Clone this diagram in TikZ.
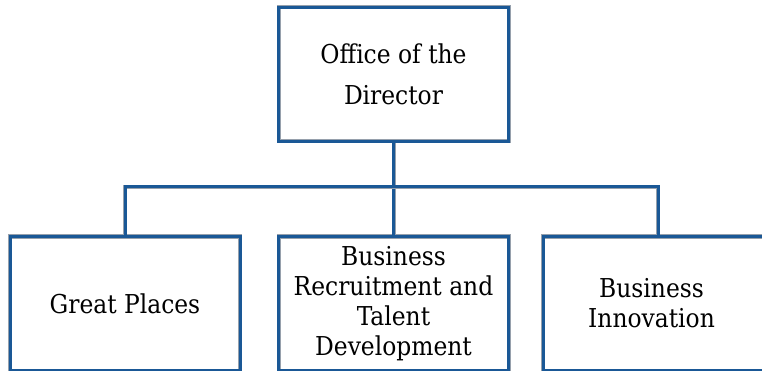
\documentclass[tikz,border=0pt]{standalone}
\usepackage{fontspec}
\setmainfont{DejaVu Serif Condensed}
\usetikzlibrary{positioning}

\definecolor{orgblue}{RGB}{26,88,150}
\definecolor{orgedge}{RGB}{150,160,172}

\begin{document}
\begin{tikzpicture}[x=1pt,y=-1pt,
    unit/.style={draw=orgblue,line width=3pt,
        preaction={draw=orgedge,line width=4pt},
        minimum width=230pt,minimum height=134pt,inner sep=0pt,
        align=center,font=\fontsize{26}{30}\selectfont},
    conn/.style={draw=orgblue,line width=3pt,
        preaction={draw=orgedge,line width=4pt}}]
    \useasboundingbox (0,0) rectangle (762,371);

    % Boxes
    \node[unit,font=\fontsize{26}{41}\selectfont]
        (dir) at (393.5,74.5) {Office of the\\Director};
    \node[unit] (gp) at (125,303.5) {Great Places};
    \node[unit] (brt) at (393.5,303.5)
        {Business\\Recruitment and\\Talent\\Development};
    \node[unit] (bi) at (658,303.5) {\phantom{x}};
    \node[align=center,font=\fontsize{26}{30}\selectfont] (bitext)
        at (651.5,303) {Business\\Innovation};

    % Connectors
    \coordinate (bar) at (393.5,187);
    \draw[conn] (dir.south) -- (brt.north);
    \draw[conn] (gp.north) |- (bar) -| (bi.north);
\end{tikzpicture}
\end{document}
